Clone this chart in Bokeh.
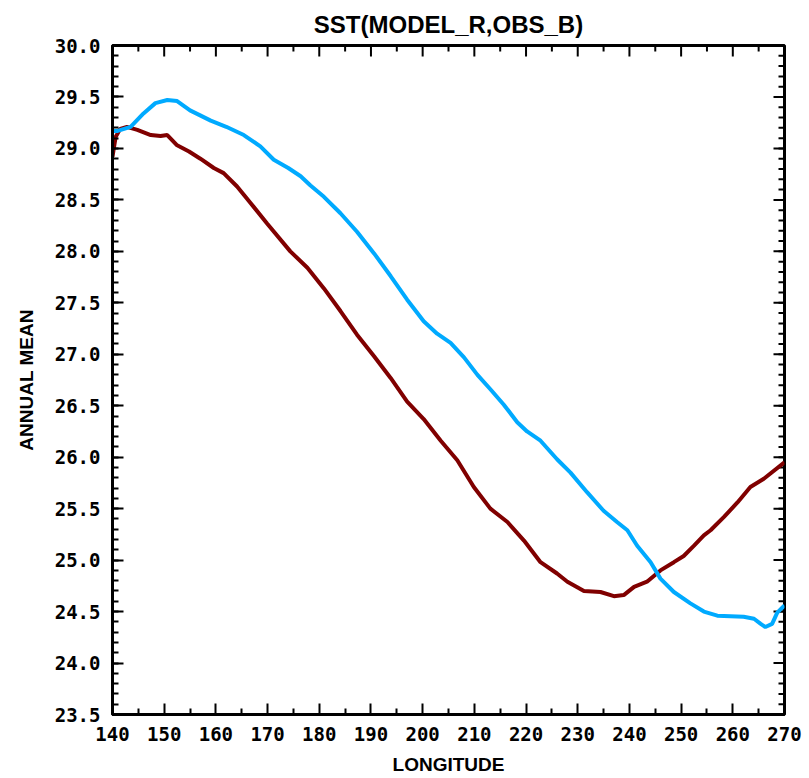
from bokeh.plotting import figure
from bokeh.models import LinearAxis, FixedTicker, Range1d, PrintfTickFormatter
from bokeh.embed import file_html
from bokeh.resources import INLINE

# OBS (blue) and MODEL (red) SST annual mean along longitude
lon_obs = [140, 141, 143.5, 146, 148.3, 150.6, 152.5, 155, 159, 162, 165.4, 168.6,
           171.2, 174, 176.4, 178.3, 180.9, 184.1, 187.3, 190.6, 193.8, 197, 200.2,
           202.8, 205.4, 208, 210.6, 213.1, 215.7, 218.3, 220.2, 222.8, 226, 228.6,
           231.8, 235, 237.6, 239.6, 241.5, 244.1, 246, 248.6, 251.8, 254.4, 257,
           262.1, 264.1, 265.4, 266.3, 267.6, 268.6, 270]
sst_obs = [29.17, 29.17, 29.21, 29.34, 29.44, 29.47, 29.46, 29.37, 29.27, 29.21, 29.13, 29.02,
           28.89, 28.81, 28.73, 28.64, 28.53, 28.37, 28.19, 27.98, 27.76, 27.53, 27.32,
           27.20, 27.11, 26.97, 26.80, 26.66, 26.51, 26.34, 26.25, 26.16, 25.98, 25.85,
           25.66, 25.48, 25.37, 25.29, 25.14, 24.98, 24.82, 24.69, 24.58, 24.50, 24.46,
           24.45, 24.43, 24.38, 24.35, 24.38, 24.49, 24.56]

lon_model = [140, 140.6, 141.5, 142.8, 144.8, 147.4, 149.3, 150.6, 152.5, 154.8, 157, 159.6,
             161.5, 164.1, 166.7, 169.9, 174.4, 177.7, 180.9, 184.1, 187.3, 190.6, 193.8,
             197, 200.2, 203.5, 206.7, 209.9, 213.1, 216.4, 219.6, 222.8, 226, 228, 231.2,
             234.4, 237, 238.9, 240.9, 243.4, 246, 248.6, 250.5, 252.5, 254.4, 255.7, 258.3,
             260.9, 263.4, 266, 270]
sst_model = [28.92, 29.11, 29.19, 29.21, 29.18, 29.13, 29.12, 29.13, 29.03, 28.97, 28.90, 28.81,
             28.76, 28.63, 28.47, 28.27, 28.00, 27.84, 27.64, 27.42, 27.19, 26.98, 26.77,
             26.54, 26.37, 26.16, 25.97, 25.71, 25.50, 25.37, 25.19, 24.98, 24.87, 24.79, 24.70,
             24.69, 24.65, 24.66, 24.74, 24.79, 24.90, 24.98, 25.04, 25.14, 25.24, 25.29, 25.42,
             25.56, 25.71, 25.79, 25.95]

X_MIN, X_MAX = 140, 270
Y_MIN, Y_MAX = 23.5, 30.0
x_ticks = list(range(140, 271, 10))
x_minor = list(range(145, 270, 10))
y_ticks = [23.5 + 0.5 * i for i in range(14)]
y_minor = [round(23.5 + 0.1 * i, 1) for i in range(66)]

TICK_FONT = "DejaVu Sans Mono"
LABEL_FONT = "Liberation Sans"
MAJOR_LEN, MINOR_LEN = 11, 6

p = figure(width=808, height=777, output_backend="svg", toolbar_location=None,
           x_range=Range1d(X_MIN, X_MAX), y_range=Range1d(Y_MIN, Y_MAX),
           x_axis_location=None, y_axis_location=None,
           min_border_left=112, min_border_right=24, min_border_top=45, min_border_bottom=61,
           background_fill_color="white", border_fill_color="white")
p.grid.visible = False
p.outline_line_color = "black"
p.outline_line_width = 3

p.title.text = "SST(MODEL_R,OBS_B)"
p.title.align = "center"
p.title.text_font = LABEL_FONT
p.title.text_font_size = "24px"
p.title.text_font_style = "bold"
p.title.text_color = "black"
p.title.standoff = 15
p.title.offset = 0


def style_axis(ax):
    ax.axis_line_width = 3
    ax.axis_line_color = "black"
    ax.major_tick_in = MAJOR_LEN
    ax.major_tick_out = 0
    ax.minor_tick_in = MINOR_LEN
    ax.minor_tick_out = 0
    ax.major_tick_line_width = 2
    ax.minor_tick_line_width = 2
    ax.major_tick_line_color = "black"
    ax.minor_tick_line_color = "black"
    ax.major_label_text_font = TICK_FONT
    ax.major_label_text_font_size = "19px"
    ax.major_label_text_font_style = "bold"
    ax.major_label_text_color = "black"
    ax.axis_label_text_font = LABEL_FONT
    ax.axis_label_text_font_size = "19px"
    ax.axis_label_text_font_style = "bold"
    ax.axis_label_text_color = "black"


xb = LinearAxis(ticker=FixedTicker(ticks=x_ticks, minor_ticks=x_minor),
                axis_label="LONGITUDE")
style_axis(xb)
xb.major_label_standoff = 12
xb.axis_label_standoff = 10
p.add_layout(xb, "below")

yl = LinearAxis(ticker=FixedTicker(ticks=y_ticks, minor_ticks=y_minor),
                formatter=PrintfTickFormatter(format="%.1f"), axis_label="ANNUAL MEAN")
style_axis(yl)
yl.major_label_standoff = 12
yl.axis_label_standoff = 15
p.add_layout(yl, "left")

# mirrored inward ticks on the top and right frame edges
p.ray(x=x_ticks, y=[Y_MAX] * len(x_ticks), length=MAJOR_LEN, length_units="screen",
      angle=-90, angle_units="deg", line_color="black", line_width=2)
p.ray(x=x_minor, y=[Y_MAX] * len(x_minor), length=MINOR_LEN, length_units="screen",
      angle=-90, angle_units="deg", line_color="black", line_width=2)
p.ray(x=[X_MAX] * len(y_ticks), y=y_ticks, length=MAJOR_LEN, length_units="screen",
      angle=180, angle_units="deg", line_color="black", line_width=2)
p.ray(x=[X_MAX] * len(y_minor), y=y_minor, length=MINOR_LEN, length_units="screen",
      angle=180, angle_units="deg", line_color="black", line_width=2)

p.line(lon_model, sst_model, line_color="#800000", line_width=4)
p.line(lon_obs, sst_obs, line_color="#00AAFF", line_width=4)

open("out.html", "w").write(file_html(p, INLINE))
